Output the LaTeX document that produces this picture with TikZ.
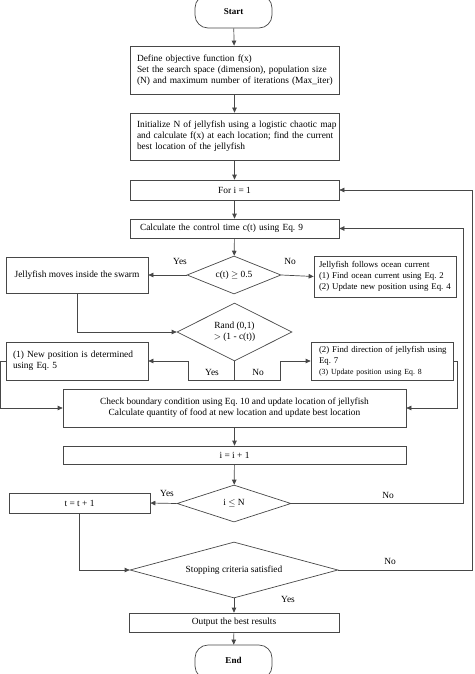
\documentclass[tikz,border=0pt]{standalone}
\usepackage{fontspec}
\setmainfont{Liberation Serif}
\usetikzlibrary{shapes.geometric,arrows.meta,calc}
\newcommand\jline[2]{\leavevmode\hbox to #1{#2}}
\begin{document}
\frenchspacing
\begin{tikzpicture}[x=1pt,y=-1pt,
  font=\fontsize{9.4}{10.8}\selectfont,
  small/.style={font=\fontsize{8.8}{10.8}\selectfont},
  ln/.style={draw=black!72,line width=0.7pt},
  arr/.style={ln,-{Triangle[length=5pt,width=4.5pt]}},
  box/.style={ln,rectangle,inner sep=0pt,align=center},
  lbox/.style={ln,rectangle,inner sep=0pt,align=left},
  dia/.style={ln,diamond,inner sep=0pt,align=center},
  term/.style={ln,rectangle,rounded corners=13pt,inner sep=0pt,minimum width=77pt,font=\fontsize{9}{10.8}\selectfont\bfseries},
  lab/.style={inner sep=0pt}
]
\useasboundingbox (0,0) rectangle (474,674);
\clip (0,0) rectangle (474,674);
% nodes
\node[term,minimum height=33pt] (start) at (233.5,11.5) {\raisebox{-2.5pt}{Start}};
\node[lbox,minimum width=209pt,minimum height=48pt,text width=195pt] (def) at (234.5,70)
  {Define objective function f(x)\\
   \jline{194pt}{Set the search space (dimension), population size}\\
   \jline{194pt}{(N) and maximum number of iterations (Max\_iter)}};
\node[lbox,minimum width=209pt,minimum height=47pt,text width=195pt] (init) at (234.5,136.5)
  {\jline{194pt}{Initialize N of jellyfish using a logistic chaotic map}\\
   \jline{194pt}{and calculate f(x) at each location; find the current}\\
   best location of the jellyfish};
\node[box,minimum width=209pt,minimum height=20pt] (fori) at (234.5,190) {For i = 1};
\node[lbox,minimum width=209pt,minimum height=19pt,text width=189pt] (calc) at (234.5,228.5)
  {Calculate the control time c(t) using Eq. 9};
\node[dia,aspect=2.47,minimum width=94pt,minimum height=38pt] (d1) at (234,275) {c(t) $\geq$ 0.5};
\node[box,minimum width=142pt,minimum height=36pt] (moves) at (77,275) {Jellyfish moves inside the swarm};
\node[lbox,small,minimum width=142pt,minimum height=41pt,text width=132pt] (follows) at (385,276.5)
  {Jellyfish follows ocean current\\(1) Find ocean current using Eq. 2\\(2) Update new position using Eq. 4};
\node[dia,aspect=1.98,minimum width=115pt,minimum height=58pt] (d2) at (234.5,332) {Rand (0,1)\\$>$ (1 - c(t))};
\node[lbox,minimum width=142pt,minimum height=38pt,text width=128pt] (newpos) at (77,361)
  {(1) New position is determined\\using Eq. 5};
\node[lbox,small,minimum width=142pt,minimum height=38pt,text width=126pt] (dir) at (382,361)
  {\jline{125pt}{(2) Find direction of jellyfish using}\\Eq. 7\\{\fontsize{7.8}{10}\selectfont (3) Update position using Eq. 8}};
\node[box,minimum width=343pt,minimum height=38pt] (check) at (234.5,408)
  {Check boundary condition using Eq. 10 and update location of jellyfish\\
   Calculate quantity of food at new location and update best location};
\node[box,minimum width=343pt,minimum height=18pt] (inc) at (234.5,455) {i = i + 1};
\node[dia,aspect=3.08,minimum width=114pt,minimum height=37pt] (d3) at (234,503.5) {i $\leq$ N};
\node[box,minimum width=141pt,minimum height=20pt] (tinc) at (79.5,503) {t = t + 1};
\node[dia,aspect=3.71,minimum width=208pt,minimum height=56pt] (d4) at (234,570) {Stopping criteria satisfied};
\node[box,minimum width=210pt,minimum height=19pt] (out) at (234,622.5) {Output the best results};
\node[term,minimum height=34pt] (end) at (233.5,662) {\raisebox{2.5pt}{End}};
% connectors
\draw[arr] (start) -- (def);
\draw[arr] (def) -- (init);
\draw[arr] (init) -- (fori);
\draw[arr] (fori) -- (calc);
\draw[arr] (calc) -- (d1);
\draw[arr] (d1.west) -- (moves.east);
\draw[arr] (d1.east) -- (follows.west);
\draw[arr] (moves.south) |- (d2.west);
\coordinate (j) at ($(d2.south)+(0,19)$);
\draw[ln] (d2.south) -- (j);
\draw[arr] (j) -| ([xshift=40pt]newpos.east) -- (newpos.east);
\draw[arr] (j) -| ([xshift=-30pt]dir.west) -- (dir.west);
\draw[arr] (newpos.west) -- ++(-5,0) |- (check.west);
\draw[arr] (dir.east) -- ++(4,0) |- (check.east);
\draw[arr] (check) -- (inc);
\draw[arr] (inc) -- (d3);
\draw[arr] (d3.west) -- (tinc.east);
\draw[arr] (d3.east) -- (463,503.5) |- (calc.east);
\draw[arr] (tinc.south) |- (d4.west);
\draw[arr] (d4.east) -- (472,570) |- (fori.east);
\draw[arr] (d4) -- (out);
\draw[arr] (out) -- (end);
% labels
\node[lab] at (180,261) {Yes};
\node[lab] at (290,261) {No};
\node[lab] at (212,372) {Yes};
\node[lab] at (258,372) {No};
\node[lab] at (167,493) {Yes};
\node[lab] at (388,495) {No};
\node[lab] at (390,561) {No};
\node[lab] at (288,599) {Yes};
\end{tikzpicture}
\end{document}
